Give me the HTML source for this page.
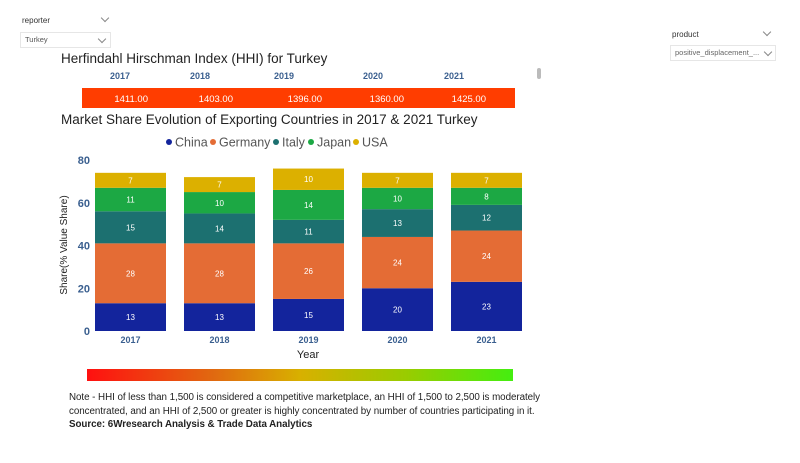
<!DOCTYPE html>
<html><head><meta charset="utf-8"><style>
body{margin:0;width:800px;height:463px;background:#fff;font-family:"Liberation Sans",sans-serif;position:relative;overflow:hidden}
.abs{position:absolute}
.dd{font-size:8px;color:#333}
.chev{position:absolute;width:5px;height:5px;border-right:1px solid #888;border-bottom:1px solid #888;transform:rotate(45deg)}
</style></head><body>
<div class="abs dd" style="left:22px;top:16px">reporter</div>
<div class="chev" style="left:102px;top:15px"></div>
<div class="abs dd" style="left:20px;top:32px;width:85px;height:14px;border:1px solid #e6e6e6;padding-left:4px;line-height:14px;font-size:7.5px;color:#555">Turkey<div class="chev" style="left:78px;top:3px"></div></div>
<div class="abs dd" style="left:672px;top:30px">product</div>
<div class="chev" style="left:764px;top:29px"></div>
<div class="abs dd" style="left:670px;top:45px;width:100px;height:14px;border:1px solid #e6e6e6;padding-left:4px;line-height:14px;font-size:7.5px;color:#666">positive_displacement_...<div class="chev" style="left:94px;top:3px"></div></div>
<div class="abs" style="left:537px;top:68px;width:4px;height:11px;background:#bbb;border-radius:2px"></div>
<div class="abs" style="left:87px;top:369px;width:426px;height:12px;background:linear-gradient(90deg,#ff1010,#e06a10 30%,#d8b000 50%,#99cc00 75%,#44ee10)"></div>
<div class="abs" style="left:69px;top:391px;font-size:9.8px;line-height:13.5px;color:#222;white-space:nowrap;letter-spacing:-0.05px">Note - HHI of less than 1,500 is considered a competitive marketplace, an HHI of 1,500 to 2,500 is moderately<br>concentrated, and an HHI of 2,500 or greater is highly concentrated by number of countries participating in it.<br><b>Source: 6Wresearch Analysis &amp; Trade Data Analytics</b></div>
<svg class="abs" style="left:0;top:0" width="800" height="463" id="svg">
<text x="61" y="63" font-size="13.5" fill="#222">Herfindahl Hirschman Index (HHI) for Turkey</text>
<rect x="82" y="88" width="433" height="20" fill="#ff3d00"/>
<text x="61" y="124" font-size="13.5" fill="#222">Market Share Evolution of Exporting Countries in 2017 &amp; 2021 Turkey</text>
<text x="67" y="245" font-size="10" fill="#222" transform="rotate(-90 67 245)" text-anchor="middle">Share(% Value Share)</text>
<text x="308" y="358" font-size="11" fill="#222" text-anchor="middle">Year</text>
</svg>
<script>
const years=['2017','2018','2019','2020','2021'];
const hhi=['1411.00','1403.00','1396.00','1360.00','1425.00'];
const series=['China','Germany','Italy','Japan','USA'];
const china=[13,13,15,20,23];
const germany=[28,28,26,24,24];
const italy=[15,14,11,13,12];
const japan=[11,10,14,10,8];
const usa=[7,7,10,7,7];
const yTicks=[0,20,40,60,80];
const colors=['#13249c','#e46c35','#1c7070','#1ca844','#dcb000'];
const vals=[china,germany,italy,japan,usa];
const NS='http://www.w3.org/2000/svg',svg=document.getElementById('svg');
const y=v=>331-v*(171/80);
const x=i=>95+i*89;
const bw=71;
function t(px,py,s,txt,o){const e=document.createElementNS(NS,'text');e.setAttribute('x',px);e.setAttribute('y',py);e.setAttribute('font-size',s);e.setAttribute('text-anchor','middle');for(const k in o)e.setAttribute(k,o[k]);e.textContent=txt;svg.appendChild(e);return e;}
const hx=[120,200,284,373,454];
const hvx=[148,233,322,404,486];
years.forEach((yr,i)=>{
 const e=t(hx[i],79,9,yr,{fill:'#3a5f8f','font-weight':'bold'});
 
 
 const h=t(hvx[i],102,9.5,hhi[i],{fill:'#fff','text-anchor':'end'});
 
 
});
yTicks.forEach(v=>{const e=t(90,y(v)+4,11,v,{fill:'#3a5f8f','font-weight':'bold','text-anchor':'end'});
 
 });
years.forEach((yr,i)=>{
 let base=0;
 vals.forEach((arr,s)=>{const v=arr[i];
  const r=document.createElementNS(NS,'rect');
  r.setAttribute('x',x(i));r.setAttribute('y',y(base+v));r.setAttribute('width',bw);r.setAttribute('height',y(base)-y(base+v));r.setAttribute('fill',colors[s]);
  
  
  svg.appendChild(r);
  const l=t(x(i)+bw/2,(y(base)+y(base+v))/2+3,8,v,{fill:'#fff'});
  
  
  base+=v;});
 const e=t(x(i)+bw/2,343,9,yr,{fill:'#3a5f8f','font-weight':'bold'});
 
 
});
const ldot=[169,213,276,311,356];
const ltxt=[175,219,282,317,362];
series.forEach((s,i)=>{
 const c=document.createElementNS(NS,'circle');c.setAttribute('cx',ldot[i]);c.setAttribute('cy',142);c.setAttribute('r',3);c.setAttribute('fill',colors[i]);
 
 
 svg.appendChild(c);
 const e=t(ltxt[i],146.5,12.5,s,{fill:'#555','text-anchor':'start'});
 
 
});
</script>
</body></html>
